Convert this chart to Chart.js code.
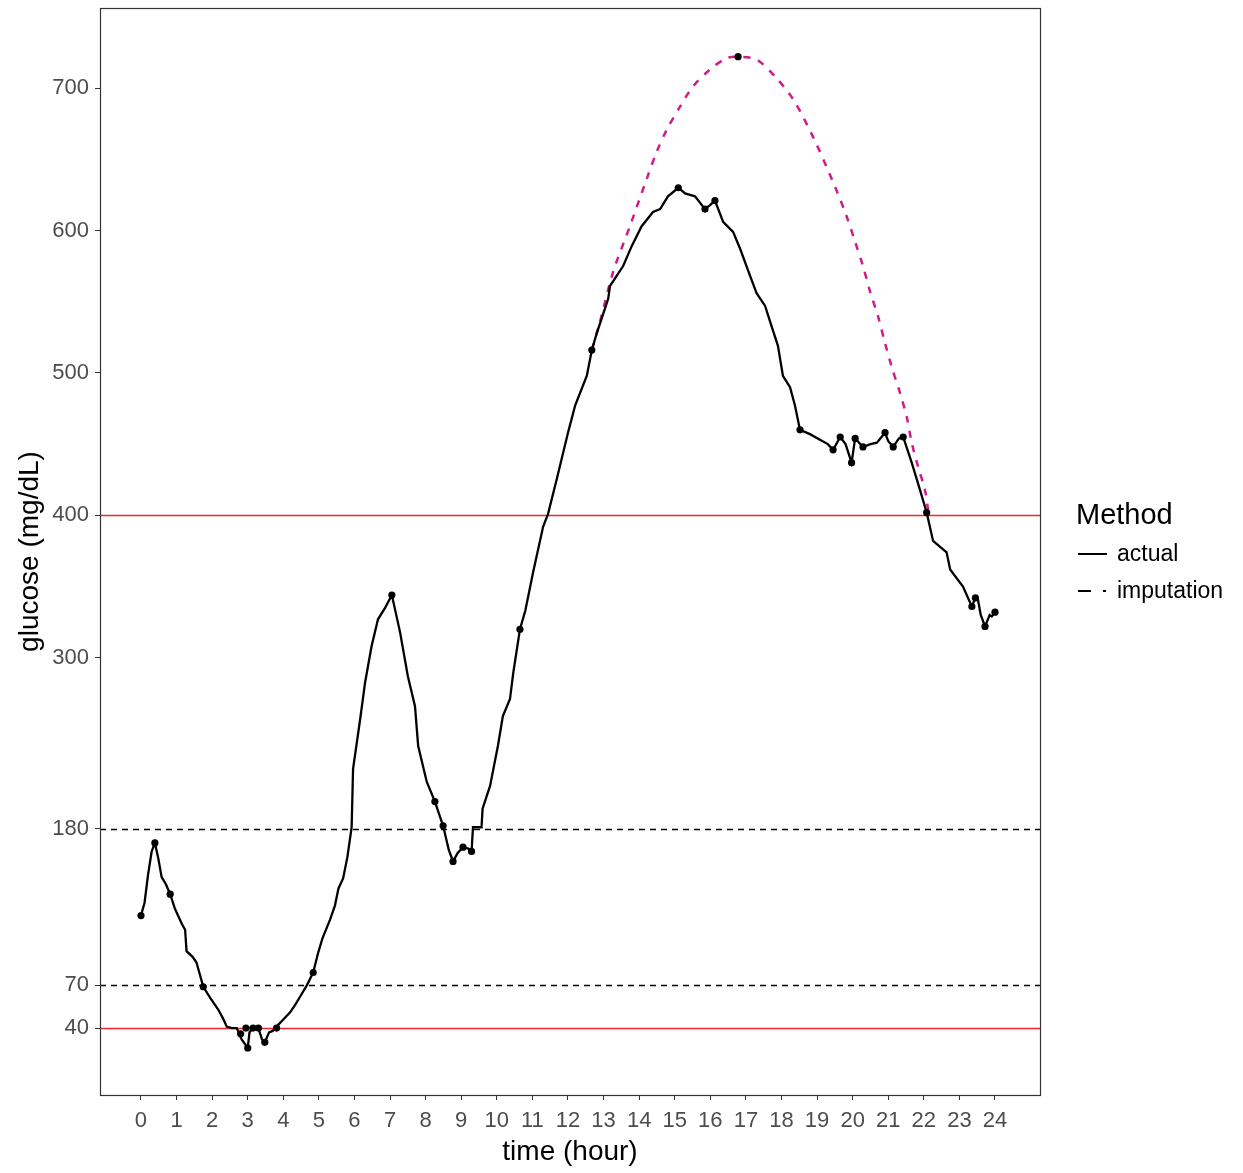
<!DOCTYPE html>
<html lang="en">
<head>
    <meta charset="UTF-8">
    <title>Glucose - actual vs imputation</title>
    <script src="https://cdn.jsdelivr.net/npm/chart.js@4.4.1/dist/chart.umd.min.js"></script>
    <style>
        body { margin: 0; background: #fff; font-family: "Liberation Sans", Arial, sans-serif; }
        #wrap { position: relative; width: 1243px; height: 1173px; }
        #legend { position: absolute; left: 1076px; top: 496px; color: #000; }
        #legend .title { font-size: 29px; line-height: 36px; margin-bottom: 3px; }
        #legend .item { font-size: 23px; height: 37px; display: flex; align-items: center; }
        #legend .key { width: 36px; height: 20px; position: relative; margin-right: 5px; }
        #legend .solid { position: absolute; left: 2px; top: 9px; width: 29px; border-top: 2.5px solid #000; }
        #legend .dash { position: absolute; left: 2px; top: 9px; width: 13px; border-top: 2.5px solid #000; }
        #legend .dot { position: absolute; left: 27px; top: 9px; width: 3px; border-top: 2.5px solid #000; }
    </style>
</head>
<body>
    <div id="wrap">
        <canvas id="glucose-chart" width="1243" height="1173"></canvas>
        <div id="legend">
            <div class="title">Method</div>
            <div class="item"><span class="key"><span class="solid"></span></span>actual</div>
            <div class="item"><span class="key"><span class="dash"></span><span class="dot"></span></span>imputation</div>
        </div>
    </div>
    <script>
        // actual CGM trace (hour, mg/dL)
        const actualHours = [0.00, 0.10, 0.20, 0.30, 0.39, 0.48, 0.58, 0.70, 0.82, 0.95, 1.04, 1.15, 1.24, 1.28, 1.45, 1.56, 1.65, 1.75, 1.95, 2.17,
            2.30, 2.41, 2.55, 2.69, 2.83, 3.00, 3.05, 3.15, 3.30, 3.40, 3.48, 3.60, 3.70, 3.81, 4.00, 4.19, 4.35, 4.47, 4.66, 4.84,
            4.98, 5.10, 5.31, 5.45, 5.55, 5.68, 5.80, 5.92, 5.96, 6.16, 6.30, 6.48, 6.66, 6.86, 7.05, 7.28, 7.50, 7.70, 7.79, 8.03,
            8.26, 8.49, 8.65, 8.77, 8.90, 9.05, 9.20, 9.29, 9.33, 9.57, 9.60, 9.81, 10.03, 10.17, 10.37, 10.46, 10.65, 10.80, 11.02, 11.30,
            11.44, 11.68, 12.00, 12.20, 12.53, 12.67, 12.81, 13.13, 13.18, 13.55, 13.79, 14.07, 14.39, 14.59, 14.81, 15.10, 15.29, 15.57, 15.85, 16.00,
            16.13, 16.36, 16.64, 16.84, 17.12, 17.30, 17.54, 17.68, 17.90, 18.04, 18.24, 18.38, 18.52, 18.80, 19.08, 19.30, 19.45, 19.65, 19.80, 19.97,
            20.07, 20.29, 20.50, 20.68, 20.91, 21.00, 21.14, 21.30, 21.42, 21.66, 21.89, 22.08, 22.26, 22.64, 22.74, 23.10, 23.35, 23.45, 23.52, 23.60,
            23.72, 23.85, 23.91, 24.00];
        const actualGlucose = [119, 128, 148, 164, 170, 160, 146, 141, 134, 124, 119, 113, 109, 94, 90, 86, 78, 69, 61, 53,
            47, 41, 40, 40, 32, 26, 37, 40, 40, 32, 30, 37, 38, 41, 46, 51, 57, 62, 70, 79,
            93, 103, 116, 126, 138, 145, 160, 181, 222, 257, 283, 308, 327, 335, 344, 318, 287, 266, 238, 213,
            199, 182, 165, 157, 163, 167, 166, 164, 181, 181, 194, 210, 238, 259, 271, 289, 320, 333, 360, 392,
            401, 425, 458, 477, 498, 516, 528, 552, 561, 575, 589, 603, 613, 615, 624, 630, 626, 624, 615, 618,
            621, 606, 599, 587, 568, 556, 547, 536, 519, 498, 490, 477, 460, 457, 453, 450, 446, 455, 450, 437,
            454, 448, 450, 451, 458, 452, 448, 454, 455, 437, 418, 402, 382, 374, 362, 350, 336, 342, 341, 330,
            322, 330, 329, 332];

        // imputed values over the gap
        const imputHours = [12.67, 12.90, 13.27, 13.74, 14.21, 14.49, 14.78, 15.15, 15.51, 15.99, 16.46, 16.78, 17.30, 17.82, 18.33, 18.90,
            19.50, 19.83, 20.07, 20.29, 20.49, 20.71, 20.91, 21.10, 21.33, 21.52, 21.66, 21.84, 22.03, 22.12];
        const imputGlucose = [516, 536, 571, 603, 636, 655, 671, 687, 701, 713, 721, 722, 720, 708, 692, 665,
            631, 610, 592, 575, 557, 540, 521, 504, 486, 469, 451, 434, 418, 404];

        // dots drawn on the trace
        const markHours = [0.00, 0.39, 0.82, 1.75, 2.80, 2.95, 3.00, 3.15, 3.30, 3.48, 3.81, 4.84, 7.05, 8.26, 8.49, 8.77, 9.05, 9.29,
            10.65, 12.67, 15.10, 15.85, 16.13, 16.78, 18.52, 19.45, 19.65, 19.97, 20.07, 20.29, 20.91, 21.14, 21.42, 22.08,
            23.35, 23.45, 23.72, 24.00];
        const markGlucose = [119, 170, 134, 69, 36, 40, 26, 40, 40, 30, 40, 79, 344, 199, 182, 157, 167, 164,
            320, 516, 630, 615, 621, 722, 460, 446, 455, 437, 454, 448, 458, 448, 455, 402,
            336, 342, 322, 332];

        const xTicks = [0, 1, 2, 3, 4, 5, 6, 7, 8, 9, 10, 11, 12, 13, 14, 15, 16, 17, 18, 19, 20, 21, 22, 23, 24];
        const yTicks = [40, 70, 180, 300, 400, 500, 600, 700];
        const redLines = [40, 400];
        const dashLines = [70, 180];

        const toXY = (xs, ys) => xs.map((x, i) => ({ x: x, y: ys[i] }));

        // threshold lines + panel border
        const refLines = {
            id: 'refLines',
            beforeDatasetsDraw(chart) {
                const { ctx, chartArea, scales } = chart;
                ctx.save();
                ctx.lineWidth = 1.4;
                redLines.forEach(v => {
                    const y = Math.round(scales.y.getPixelForValue(v)) + 0.5;
                    ctx.strokeStyle = '#F0262B';
                    ctx.setLineDash([]);
                    ctx.beginPath(); ctx.moveTo(chartArea.left, y); ctx.lineTo(chartArea.right, y); ctx.stroke();
                });
                dashLines.forEach(v => {
                    const y = Math.round(scales.y.getPixelForValue(v)) + 0.5;
                    ctx.strokeStyle = '#000';
                    ctx.setLineDash([6, 5]);
                    ctx.beginPath(); ctx.moveTo(chartArea.left, y); ctx.lineTo(chartArea.right, y); ctx.stroke();
                });
                ctx.restore();
            },
            afterDraw(chart) {
                const { ctx, chartArea } = chart;
                ctx.save();
                ctx.strokeStyle = '#333';
                ctx.lineWidth = 1.2;
                ctx.strokeRect(chartArea.left + 0.5, chartArea.top + 0.5, chartArea.right - chartArea.left, chartArea.bottom - chartArea.top);
                ctx.restore();
            }
        };

        const ctx = document.getElementById('glucose-chart').getContext('2d');
        const glucoseChart = new Chart(ctx, {
            type: 'line',
            data: {
                datasets: [{
                    label: 'dots',
                    type: 'scatter',
                    data: toXY(markHours, markGlucose),
                    showLine: false,
                    pointRadius: 3.6,
                    pointBackgroundColor: '#000',
                    pointBorderWidth: 0,
                    order: 0
                }, {
                    label: 'actual',
                    data: toXY(actualHours, actualGlucose),
                    borderColor: '#000',
                    borderWidth: 2.3,
                    pointRadius: 0,
                    tension: 0,
                    order: 1
                }, {
                    label: 'imputation',
                    data: toXY(imputHours, imputGlucose),
                    borderColor: '#D01C8B',
                    borderWidth: 2.5,
                    borderDash: [7, 8],
                    pointRadius: 0,
                    tension: 0.3,
                    order: 2
                }]
            },
            options: {
                responsive: false,
                animation: false,
                layout: { padding: { top: 8, right: 203, left: 0, bottom: 0 } },
                plugins: { legend: { display: false }, tooltip: { enabled: false } },
                scales: {
                    x: {
                        type: 'linear',
                        min: -1.152,
                        max: 25.265,
                        afterFit(scale) { scale.height = 78; scale.paddingLeft = 0; scale.paddingRight = 0; },
                        afterBuildTicks(scale) { scale.ticks = xTicks.map(v => ({ value: v })); },
                        grid: { display: true, drawOnChartArea: false, drawTicks: true, tickLength: 5, color: '#333' },
                        border: { display: false },
                        ticks: { color: '#4D4D4D', font: { family: 'Liberation Sans', size: 22 }, padding: 8, maxRotation: 0, autoSkip: false },
                        title: { display: true, text: 'time (hour)', color: '#000', font: { family: 'Liberation Sans', size: 28 }, padding: { top: 3 } }
                    },
                    y: {
                        type: 'linear',
                        min: -7,
                        max: 756.2,
                        afterFit(scale) { scale.width = 100; scale.paddingTop = 0; scale.paddingBottom = 0; },
                        afterBuildTicks(scale) { scale.ticks = yTicks.map(v => ({ value: v })); },
                        grid: { display: true, drawOnChartArea: false, drawTicks: true, tickLength: 5, color: '#333' },
                        border: { display: false },
                        ticks: { color: '#4D4D4D', font: { family: 'Liberation Sans', size: 22 }, padding: 6 },
                        title: { display: true, text: 'glucose (mg/dL)', color: '#000', font: { family: 'Liberation Sans', size: 28 }, padding: { top: 13, bottom: 0 } }
                    }
                }
            },
            plugins: [refLines]
        });
    </script>
</body>
</html>
